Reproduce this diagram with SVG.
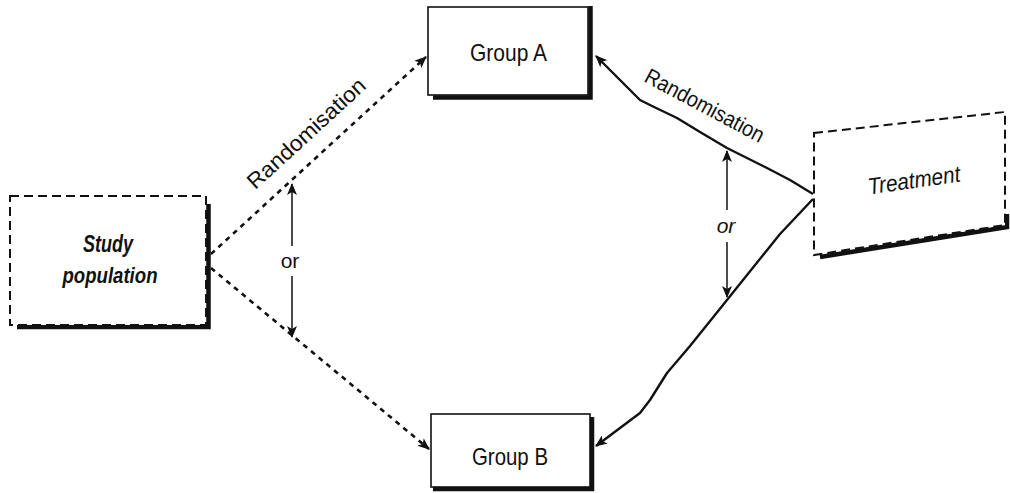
<svg xmlns="http://www.w3.org/2000/svg" width="1010" height="493" viewBox="0 0 1010 493">
<style>
.box{fill:#fff;stroke:#111;stroke-width:1.6}
.dbox{fill:#fff;stroke:#111;stroke-width:2;stroke-dasharray:9 5}
.shadow{fill:none;stroke:#111;stroke-width:4.5;stroke-linejoin:miter}
.lbl{font-family:"Liberation Sans",Arial,sans-serif;fill:#111}
.dash{fill:none;stroke:#111;stroke-width:2.6;stroke-dasharray:5 5}
.solid{fill:none;stroke:#111;stroke-width:2.4;stroke-linejoin:round}
.thin{fill:none;stroke:#111;stroke-width:1.5}
</style>
<defs>
<marker id="ah" viewBox="0 0 12 10" refX="11" refY="5" markerWidth="12" markerHeight="10" markerUnits="userSpaceOnUse" orient="auto">
<path d="M0,0 L12,5 L0,10 L3,5 Z" fill="#111"/>
</marker>
</defs>
<g id="connectors">
<line class="dash" x1="211" y1="254" x2="426" y2="57" marker-end="url(#ah)"/>
<line class="dash" x1="211" y1="268" x2="429" y2="449" marker-end="url(#ah)"/>
<path class="solid" d="M813,194 L790,180 L767,168 L727,148 L700,132 L677,118 L652,106 L640,100 L596,56" marker-end="url(#ah)"/>
<path class="solid" d="M813,199 L780,234 L727,300 L690,346 L667,373 L650,400 L640,413 L596,446" marker-end="url(#ah)"/>
<line class="thin" x1="292" y1="246" x2="292" y2="184" marker-end="url(#ah)"/>
<line class="thin" x1="292" y1="276" x2="292" y2="337" marker-end="url(#ah)"/>
<line class="thin" x1="727" y1="210" x2="727" y2="151" marker-end="url(#ah)"/>
<line class="thin" x1="727" y1="242" x2="727" y2="297" marker-end="url(#ah)"/>
<text class="lbl" x="306" y="141" font-size="22" text-anchor="middle" textLength="152" lengthAdjust="spacingAndGlyphs" transform="rotate(-42.5 306 133)">Randomisation</text>
<text class="lbl" x="705" y="113" font-size="22" text-anchor="middle" textLength="132" lengthAdjust="spacingAndGlyphs" transform="rotate(28 705 105)">Randomisation</text>
<text class="lbl" x="290" y="268" font-size="21" text-anchor="middle">or</text>
<text class="lbl" x="726" y="233" font-size="21" text-anchor="middle" font-style="italic">or</text>
</g>
<g id="study">
<polyline class="shadow" points="17,327 208.5,327 208.5,204"/>
<rect class="dbox" x="10" y="196" width="196" height="129"/>
<text class="lbl" x="108" y="252" font-size="23" font-weight="bold" font-style="italic" text-anchor="middle" textLength="50" lengthAdjust="spacingAndGlyphs">Study</text>
<text class="lbl" x="110" y="283" font-size="22" font-weight="bold" font-style="italic" text-anchor="middle" textLength="95" lengthAdjust="spacingAndGlyphs">population</text>
</g>
<g id="groupA">
<polyline class="shadow" points="433,97.5 590.5,97.5 590.5,6"/>
<rect class="box" x="428" y="7" width="160" height="88"/>
<text class="lbl" x="508.5" y="61" font-size="24" text-anchor="middle" textLength="77" lengthAdjust="spacingAndGlyphs">Group A</text>
</g>
<g id="groupB">
<polyline class="shadow" points="433,489 592,489 592,417"/>
<rect class="box" x="431" y="414" width="159" height="73"/>
<text class="lbl" x="510" y="465" font-size="24" text-anchor="middle" textLength="76" lengthAdjust="spacingAndGlyphs">Group B</text>
</g>
<g id="treatment">
<polyline class="shadow" points="820,257 1007,227 1007,214"/>
<polygon class="dbox" points="814,133 1005,112 1005,225 814,255"/>
<text class="lbl" x="914" y="188" font-size="23" font-style="italic" text-anchor="middle" textLength="93" lengthAdjust="spacingAndGlyphs" transform="rotate(-8 914 180)">Treatment</text>
</g>
</svg>
